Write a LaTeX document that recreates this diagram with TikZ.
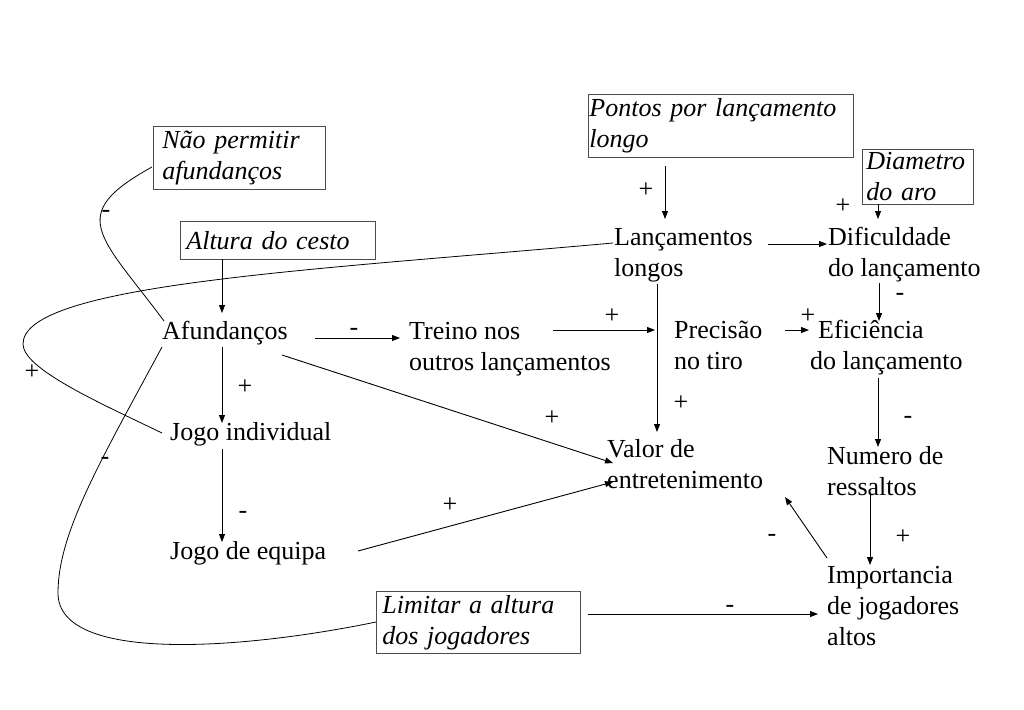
\documentclass[tikz,border=0pt]{standalone}
\usepackage{fontspec}
\setmainfont{Liberation Serif}
\usetikzlibrary{arrows.meta}
\newcommand{\ml}[1]{\begin{tabular}[t]{@{}l@{}}#1\end{tabular}}
\tikzset{
  txt/.style={anchor=base west, inner sep=0pt, font=\fontsize{26}{31}\selectfont},
  bx/.style={anchor=north west, draw=black!70, line width=0.8pt, inner ysep=0pt,
    align=left, font=\fontsize{26}{31}\selectfont\itshape},
  sg/.style={inner sep=0pt, font=\fontsize{26}{31}\selectfont},
  arr/.style={draw=black, line width=0.9pt, -{Triangle[length=8pt,width=6pt]}},
  ln/.style={draw=black, line width=0.8pt}
}
\begin{document}
\begin{tikzpicture}[x=1pt,y=-1pt]
\useasboundingbox[fill=white] (0,0) rectangle (1024,709);
% boxes
\node[bx, minimum width=172pt, minimum height=63pt, inner xsep=9pt, text width=154pt] (nao) at (153,126) {Não permitir\\afundanços};
\node[bx, minimum width=195pt, minimum height=38pt, inner xsep=6pt, text width=183pt] (alt) at (180,221) {Altura do cesto};
\node[bx, minimum width=265pt, minimum height=63pt, inner xsep=1pt, text width=263pt] (pontos) at (588,94) {Pontos por lançamento\\longo};
\node[bx, minimum width=111pt, minimum height=55pt, inner xsep=4pt, text width=103pt] (diam) at (862,149) {Diametro\\do aro};
\node[bx, minimum width=204pt, minimum height=62pt, inner xsep=6pt, text width=192pt] (lim) at (376,591) {Limitar a altura\\dos jogadores};
% text nodes
\node[txt] (lanc) at (614,245) {\ml{Lançamentos\\longos}};
\node[txt] (dif) at (828,245) {\ml{Dificuldade\\do lançamento}};
\node[txt] (afu) at (162,339) {\ml{Afundanços}};
\node[txt] (treino) at (409,339) {\ml{Treino nos\\outros lançamentos}};
\node[txt] (prec) at (674,338) {\ml{Precisão\\no tiro}};
\node[txt] (efic) at (810,338) {\ml{\hspace{8pt}Eficiência\\do lançamento}};
\node[txt] (jind) at (170,440) {\ml{Jogo individual}};
\node[txt] (valor) at (607,457) {\ml{Valor de\\entretenimento}};
\node[txt] (num) at (827,464) {\ml{Numero de\\ressaltos}};
\node[txt] (jeq) at (170,559) {\ml{Jogo de equipa}};
\node[txt] (imp) at (827,583) {\ml{Importancia\\de jogadores\\altos}};
% arrows
\draw[arr] ([shift={(77,72)}]pontos.north west) -- ([shift={(51,-26)}]lanc.base west);
\draw[arr] ([shift={(16,55)}]diam.north west) -- ([shift={(50,-26)}]dif.base west);
\draw[arr] ([shift={(154,-1)}]lanc.base west) -- ([shift={(-1,-1)}]dif.base west);
\draw[arr] ([shift={(51,38)}]dif.base west) -- ([shift={(69,-17)}]efic.base west);
\draw[arr] ([shift={(111,-8)}]prec.base west) -- ([shift={(-1,-8)}]efic.base west);
\draw[arr] ([shift={(144,-9)}]treino.base west) -- ([shift={(-19,-8)}]prec.base west);
\draw[arr] ([shift={(43,39)}]lanc.base west) -- ([shift={(50,-25)}]valor.base west);
\draw[arr] ([shift={(153,-1)}]afu.base west) -- ([shift={(-9,-1)}]treino.base west);
\draw[arr] ([shift={(42,38)}]alt.north west) -- ([shift={(60,-26)}]afu.base west);
\draw[arr] ([shift={(60,8)}]afu.base west) -- ([shift={(52,-17)}]jind.base west);
\draw[arr] ([shift={(52,9)}]jind.base west) -- ([shift={(52,-17)}]jeq.base west);
\draw[arr] ([shift={(120,16)}]afu.base west) -- ([shift={(6,6)}]valor.base west);
\draw[arr] ([shift={(188,-8)}]jeq.base west) -- ([shift={(6,25)}]valor.base west);
\draw[arr] ([shift={(68,40)}]efic.base west) -- ([shift={(51,-17)}]num.base west);
\draw[arr] ([shift={(43,29)}]num.base west) -- ([shift={(43,-18)}]imp.base west);
\draw[arr] ([shift={(0,-25)}]imp.base west) -- ([shift={(178,40)}]valor.base west);
\draw[arr] ([shift={(212,23)}]lim.north west) -- ([shift={(-9,31)}]imp.base west);
% curves
\draw[ln] ([shift={(-1,41)}]nao.north west) .. controls (65,215) and (100,235) .. ([shift={(2,-18)}]afu.base west);
\draw[ln] ([shift={(-1,-2)}]lanc.base west) .. controls (313,270) and (23,284) .. (23,344)
  .. controls (23,369) and (100,403) .. ([shift={(-8,-7)}]jind.base west);
\draw[ln] ([shift={(0,8)}]afu.base west) .. controls (100,462) and (58,533) .. (58,593)
  .. controls (58,663) and (240,650) .. ([shift={(0,31)}]lim.north west);
% signs
\node[sg] (s1) at (646,190) {+};
\node[sg] (s2) at (843,206) {+};
\node[sg] (s3) at (900,297) {-};
\node[sg] (s4) at (808,316) {+};
\node[sg] (s5) at (612,316) {+};
\node[sg] (s6) at (681,403) {+};
\node[sg] (s7) at (354,332) {-};
\node[sg] (s8) at (245,387) {+};
\node[sg] (s9) at (32,372) {+};
\node[sg] (s10) at (106,214) {-};
\node[sg] (s11) at (105,461) {-};
\node[sg] (s12) at (243,515) {-};
\node[sg] (s13) at (552,418) {+};
\node[sg] (s14) at (450,505) {+};
\node[sg] (s15) at (908,420) {-};
\node[sg] (s16) at (903,537) {+};
\node[sg] (s17) at (772,538) {-};
\node[sg] (s18) at (730,609) {-};
\end{tikzpicture}
\end{document}
